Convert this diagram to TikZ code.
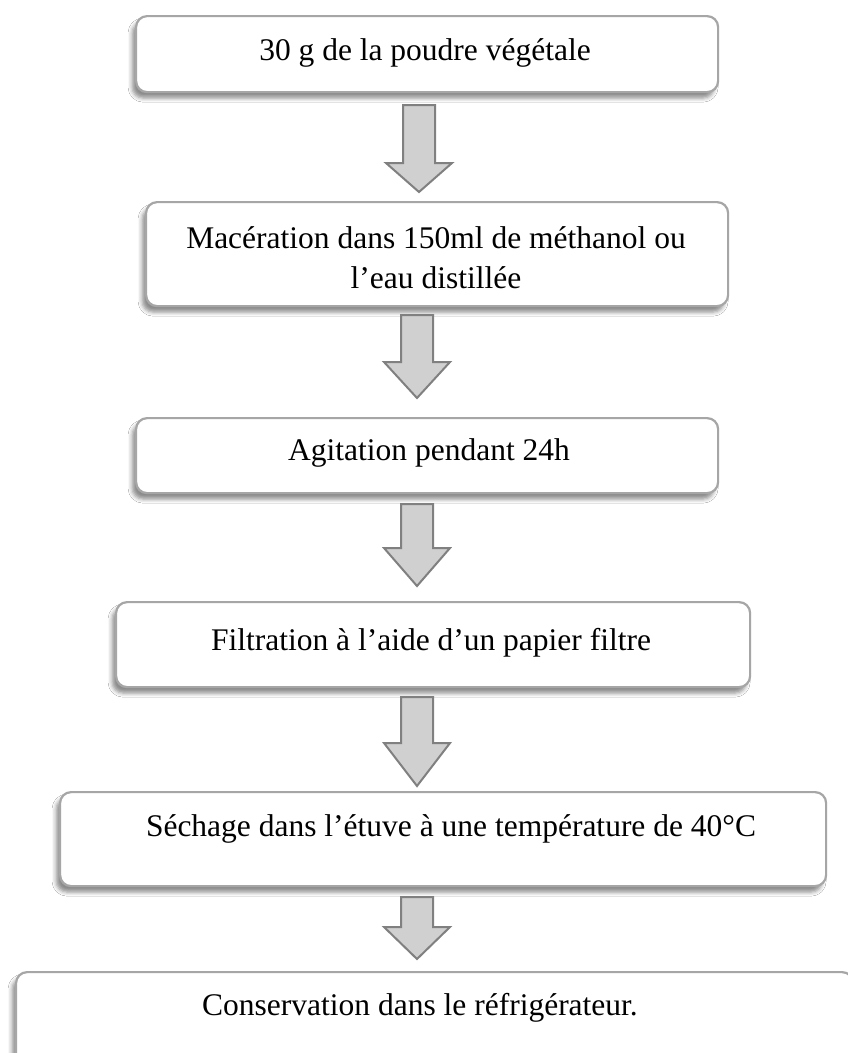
\documentclass[tikz,border=0pt]{standalone}
\usepackage{fontspec}
\setmainfont{Liberation Serif}
\usetikzlibrary{shadows.blur}
\definecolor{boxline}{HTML}{A6A6A6}
\definecolor{arrfill}{HTML}{D0D0D0}
\definecolor{arrline}{HTML}{808080}
\tikzset{
  stepbox/.style={draw=boxline, line width=2.2pt, rounded corners=11pt, fill=white,
    blur shadow={shadow xshift=-4pt, shadow yshift=-6pt, shadow blur radius=4pt, shadow opacity=45},
    inner sep=0pt, anchor=north west},
  txt/.style={font=\fontsize{31.5}{40}\selectfont, align=center, inner sep=0pt},
  blockarrow/.style={fill=arrfill, draw=arrline, line width=2pt, line join=miter},
}
\newcommand{\blkarrow}[4]{%
  \draw[blockarrow] (#1-16,#2) -- (#1+16,#2) -- (#1+16,#3) -- (#1+33,#3) -- (#1,#4) -- (#1-33,#3) -- (#1-16,#3) -- cycle;}
\begin{document}
\begin{tikzpicture}[x=1pt,y=-1pt]
\fill[white] (0,0) rectangle (848,1053);
\useasboundingbox (0,0) rectangle (848,1053);
% boxes
\node[stepbox, minimum width=582pt, minimum height=76pt] (b1) at (135,15) {};
\node[stepbox, minimum width=582pt, minimum height=104pt] (b2) at (145,201) {};
\node[stepbox, minimum width=582pt, minimum height=75pt] (b3) at (135,417) {};
\node[stepbox, minimum width=634pt, minimum height=85pt] (b4) at (115,601) {};
\node[stepbox, minimum width=766pt, minimum height=94pt] (b5) at (59,791) {};
\node[stepbox, minimum width=837pt, minimum height=92pt] (b6) at (15,971) {};
% texts
\node[txt] (t1) at (425,53) {30 g de la poudre végétale};
\node[txt] (t2) at (436,258) {Macération dans 150ml de méthanol ou\\l’eau distillée};
\node[txt] (t3) at (429,453) {Agitation pendant 24h};
\node[txt] (t4) at (431,643) {Filtration à l’aide d’un papier filtre};
\node[txt] (t5) at (451,829) {Séchage dans l’étuve à une température de 40°C};
\node[txt] (t6) at (420,1008) {Conservation dans le réfrigérateur.};
% arrows
\blkarrow{419}{105}{163}{192}
\blkarrow{417}{315}{362}{398}
\blkarrow{417}{504}{548}{586}
\blkarrow{417}{697}{743}{786}
\blkarrow{417}{897}{927}{959}
\end{tikzpicture}
\end{document}
